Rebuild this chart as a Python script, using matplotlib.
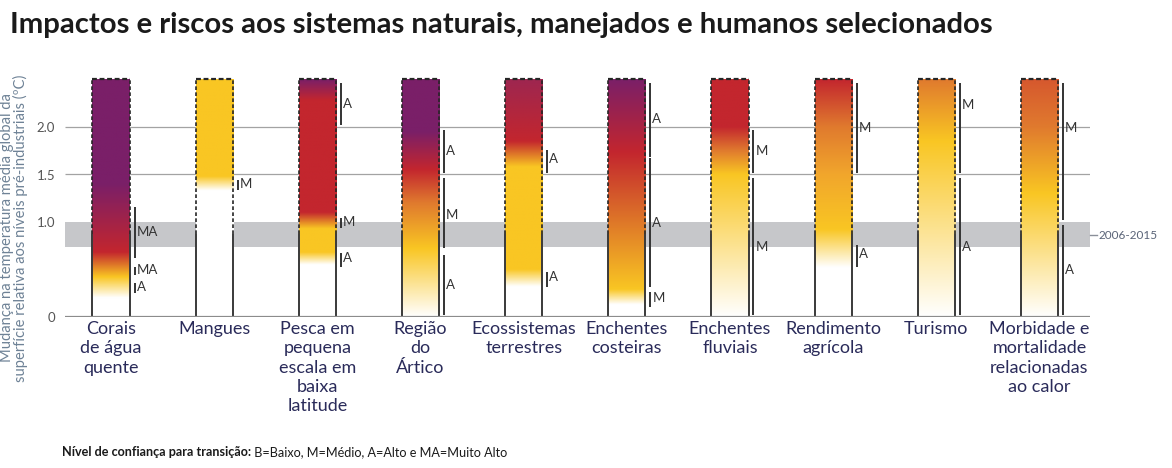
import numpy as np
import matplotlib
matplotlib.use("Agg")
import matplotlib.pyplot as plt
from matplotlib.colors import to_rgb

plt.rcParams['font.family'] = ['Lato', 'DejaVu Sans']

# ---------------- data ----------------
title = "Impactos e riscos aos sistemas naturais, manejados e humanos selecionados"
y_label = "Mudança na temperatura média global da\nsuperfície relativa aos níveis pré-industriais (ºC)"
footer_bold = "Nível de confiança para transição:"
footer_text = " B=Baixo, M=Médio, A=Alto e MA=Muito Alto"

categories = [
    "Corais\nde água\nquente",
    "Mangues",
    "Pesca em\npequena\nescala em\nbaixa\nlatitude",
    "Região\ndo\nÁrtico",
    "Ecossistemas\nterrestres",
    "Enchentes\ncosteiras",
    "Enchentes\nfluviais",
    "Rendimento\nagrícola",
    "Turismo",
    "Morbidade e\nmortalidade\nrelacionadas\nao calor",
]

y_ticks = [0, 1.0, 1.5, 2.0]
y_tick_labels = ["0", "1.0", "1.5", "2.0"]

bar_top = 2.5            # ºC, top of the assessed range
present_level = 0.87     # solid outline below, dashed above
band_low, band_high = 0.74, 1.0
band_label = "2006-2015"
band_label_level = 0.86

# risk colour keys: W white (undetectable), Y yellow (moderate), O orange,
# R red (high), P purple (very high)
risk_levels = [
    [0, 0.20, 0.42, 0.68, 1.40, 2.5],
    [0, 1.33, 1.48, 2.5],
    [0, 0.55, 0.68, 0.93, 1.10, 2.28, 2.5],
    [0, 0.72, 1.20, 1.55, 1.95, 2.5],
    [0, 0.32, 0.50, 1.58, 1.85, 2.5],
    [0, 0.13, 0.29, 1.73, 2.5],
    [0, 1.50, 1.75, 2.0, 2.5],
    [0, 0.52, 0.92, 1.5, 2.0, 2.5],
    [0, 1.85, 2.5],
    [0, 1.30, 2.0, 2.5],
]
risk_colors = [
    ["W", "W", "Y", "R", "P", "P"],
    ["W", "W", "Y", "Y"],
    ["W", "W", "Y", "Y", "R", "R", "P"],
    ["W", "Y", "O", "R", "P", "P"],
    ["W", "W", "Y", "Y", "R", "RP"],
    ["W", "W", "Y", "R", "P"],
    ["W", "Y", "O", "R", "R"],
    ["W", "W", "Y", "YO", "O", "R"],
    ["W", "Y", "O"],
    ["W", "Y", "O", "OR"],
]

# confidence markers per bar: (low, high, label, label level)
conf_low = [
    [0.62, 0.44, 0.25],
    [1.34],
    [2.02, 0.94, 0.53],
    [1.52, 0.73, 0.02],
    [1.52, 0.32],
    [1.68, 0.32, 0.11],
    [1.52, 0.02],
    [1.52, 0.53],
    [1.52, 0.02],
    [1.02, 0.02],
]
conf_high = [
    [1.16, 0.53, 0.36],
    [1.44],
    [2.46, 1.04, 0.67],
    [1.97, 1.46, 0.65],
    [1.76, 0.47],
    [2.46, 1.67, 0.26],
    [1.97, 1.46],
    [2.46, 0.76],
    [2.46, 1.46],
    [2.46, 0.97],
]
conf_labels = [
    ["MA", "MA", "A"],
    ["M"],
    ["A", "M", "A"],
    ["A", "M", "A"],
    ["A", "A"],
    ["A", "A", "M"],
    ["M", "M"],
    ["M", "A"],
    ["M", "A"],
    ["M", "A"],
]
conf_text_levels = [
    [0.90, 0.50, 0.32],
    [1.40],
    [2.24, 1.00, 0.62],
    [1.75, 1.07, 0.34],
    [1.66, 0.42],
    [2.08, 0.99, 0.20],
    [1.75, 0.74],
    [1.99, 0.66],
    [2.23, 0.74],
    [1.99, 0.50],
]

# ---------------- style ----------------
palette = {
    "W": "#FFFFFF",
    "Y": "#F9C623",
    "YO": "#F1A62C",
    "O": "#E07A2E",
    "OR": "#D6582E",
    "R": "#C3262E",
    "RP": "#9E2650",
    "P": "#7A1F68",
}
label_color = "#2A2B5A"
W_PX, H_PX = 1172, 468

fig = plt.figure(figsize=(W_PX / 100, H_PX / 100), dpi=100)
ax_left, ax_right = 65, 1090
y0_px, px_per_deg = 317, 95
ymax = 2.6
ax = fig.add_axes([ax_left / W_PX, (H_PX - y0_px) / H_PX,
                   (ax_right - ax_left) / W_PX, ymax * px_per_deg / H_PX])
xlim = (-0.446, 9.49)
bar_w = 0.36

ax.axhspan(band_low, band_high, color="#C6C7CA", zorder=0, lw=0)
ax.hlines([1.5, 2.0], xlim[0], xlim[1], color="#A3A3A3", lw=0.9, zorder=0.5)

samples = np.linspace(0, bar_top, 400)
for i, (lv, cl) in enumerate(zip(risk_levels, risk_colors)):
    rgb = np.array([to_rgb(palette[c]) for c in cl])
    img = np.stack([np.interp(samples, lv, rgb[:, k]) for k in range(3)], axis=-1)
    img = img[:, None, :]
    xl, xr = i - bar_w / 2, i + bar_w / 2
    ax.imshow(img, origin="lower", extent=(xl, xr, 0, bar_top), aspect="auto",
              interpolation="bilinear", zorder=2)
    for xe in (xl, xr):
        ax.plot([xe, xe], [0, present_level], color="#3A3A3A", lw=1.4,
                solid_capstyle="butt", zorder=3)
        ax.plot([xe, xe], [present_level, bar_top], color="#262626", lw=1.2,
                ls=(0, (2.2, 1.4)), zorder=3)
    ax.plot([xl, xr], [bar_top, bar_top], color="#262626", lw=1.6,
            ls=(0, (2.2, 1.2)), zorder=3)
    cx = xr + 0.048
    for lo, hi, lab, tl in zip(conf_low[i], conf_high[i], conf_labels[i], conf_text_levels[i]):
        ax.plot([cx, cx], [lo, hi], color="#333333", lw=1.4, solid_capstyle="butt", zorder=3)
        ax.text(cx + 0.02, tl, lab, ha="left", va="center", fontsize=9.5,
                color="#333333", zorder=4)
    ax.text(i, -0.045, categories[i], ha="center", va="top", fontsize=13,
            color=label_color, linespacing=1.24, clip_on=False)

ax.axhline(0, color="#8C8C8C", lw=1.6, zorder=3)
ax.set_xlim(*xlim)
ax.set_ylim(0, ymax)
ax.set_xticks([])
ax.set_yticks(y_ticks)
ax.set_yticklabels(y_tick_labels, fontsize=9.5, color="#555555")
ax.tick_params(axis="y", length=0, pad=7)
for s in ax.spines.values():
    s.set_visible(False)

# present-day label on the right
trans = ax.get_yaxis_transform()
ax.plot([1.0, 1.007], [band_label_level, band_label_level], color="#8A8F99",
        lw=1.0, transform=trans, clip_on=False)
ax.text(1.008, band_label_level, band_label, transform=trans, ha="left",
        va="center", fontsize=8.5, color="#5A6478", clip_on=False)

# y label
fig.text(14 / W_PX, (H_PX - 228) / H_PX, y_label, rotation=90, ha="center",
         va="center", fontsize=10.6, color="#6E8296", linespacing=0.92,
         multialignment="center")

# title, fitted to its width in the reference
renderer = fig.canvas.get_renderer()
t = fig.text(10 / W_PX, (H_PX - 33) / H_PX, title, fontsize=18,
             fontweight="bold", color="#1A1A1A", va="baseline", ha="left")
wpx = t.get_window_extent(renderer).width
t.set_fontsize(18 * 985 / wpx)

# footer, fitted to its width in the reference
fs = 8.5
fb = fig.text(62 / W_PX, (H_PX - 456) / H_PX, footer_bold, fontsize=fs,
              fontweight="bold", color="#1A1A1A", va="baseline", ha="left")
fn = fig.text(0, (H_PX - 456) / H_PX, footer_text, fontsize=fs,
              color="#1A1A1A", va="baseline", ha="left")
total = fb.get_window_extent(renderer).width + fn.get_window_extent(renderer).width
fs = fs * 448 / total
fb.set_fontsize(fs)
fn.set_fontsize(fs)
bb = fb.get_window_extent(renderer)
fn.set_x(bb.x1 / W_PX)

fig.savefig("out.png", dpi=100)
